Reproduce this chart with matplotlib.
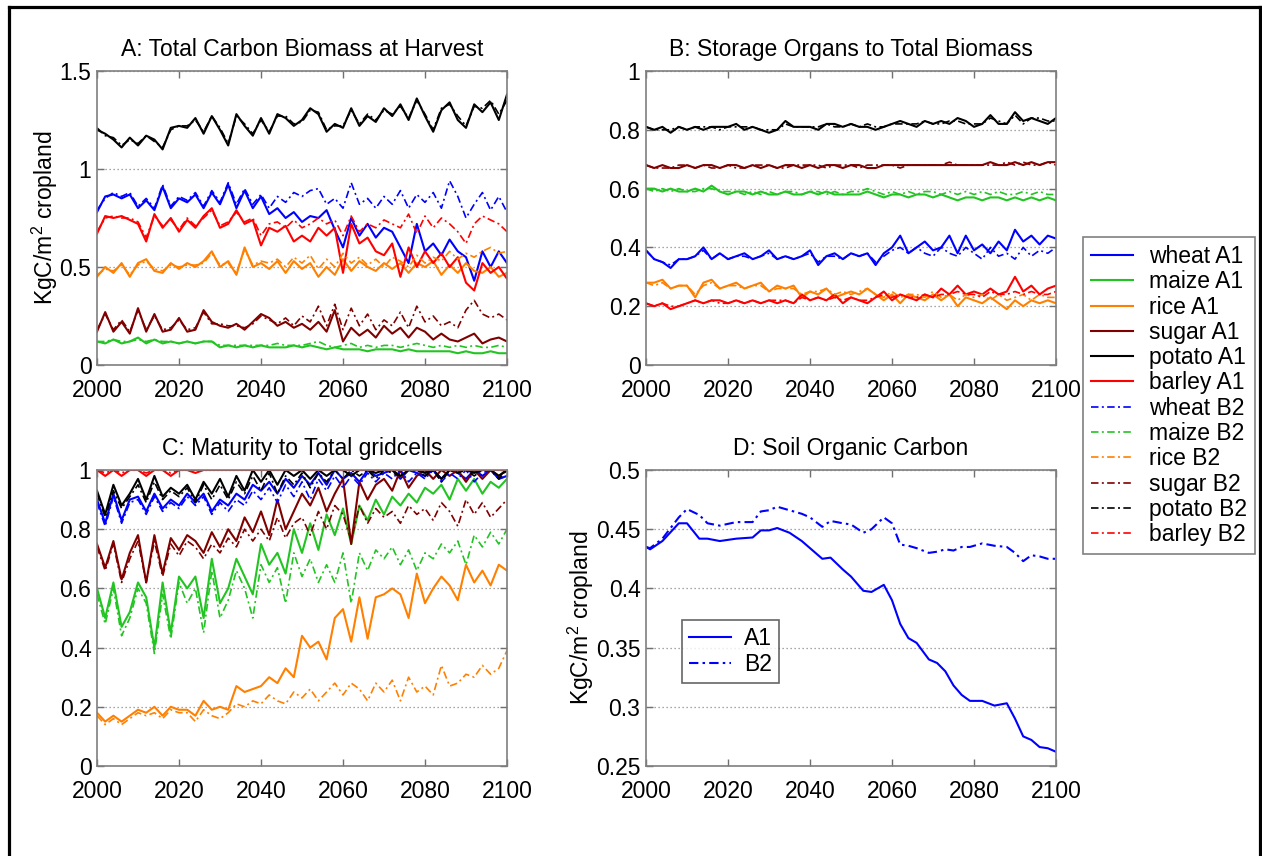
import matplotlib
matplotlib.use('Agg')
import matplotlib.pyplot as plt
from matplotlib.lines import Line2D
from matplotlib.ticker import FuncFormatter

plt.rcParams['font.family'] = ['Liberation Sans', 'DejaVu Sans']
plt.rcParams['mathtext.fontset'] = 'custom'
plt.rcParams['mathtext.rm'] = 'Liberation Sans'
plt.rcParams['mathtext.it'] = 'Liberation Sans:italic'
plt.rcParams['mathtext.bf'] = 'Liberation Sans:bold'

# ---------------- data ----------------
years = list(range(2000, 2101, 2))
crops = ['wheat', 'maize', 'rice', 'sugar', 'potato', 'barley']

# A: Total Carbon Biomass at Harvest
a_wheat_A1 = [0.78,0.86,0.87,0.85,0.87,0.80,0.84,0.79,0.91,0.80, 0.85,0.83,0.87,0.80,0.88,0.82,0.92,0.80,0.89,0.80,
              0.86,0.77,0.80,0.75,0.78,0.73,0.76,0.75,0.79,0.69, 0.60,0.75,0.66,0.72,0.65,0.70,0.68,0.60,0.52,0.72,
              0.58,0.62,0.56,0.64,0.58,0.55,0.43,0.58,0.50,0.58, 0.52]
a_wheat_B2 = [0.79,0.85,0.88,0.86,0.88,0.81,0.85,0.80,0.92,0.81, 0.86,0.84,0.88,0.81,0.89,0.83,0.93,0.82,0.90,0.82,
              0.87,0.80,0.86,0.83,0.88,0.86,0.89,0.90,0.82,0.85, 0.80,0.93,0.82,0.85,0.80,0.86,0.82,0.89,0.80,0.87,
              0.83,0.88,0.80,0.94,0.86,0.75,0.82,0.88,0.79,0.86, 0.78]
a_maize_A1 = [0.12,0.11,0.13,0.11,0.12,0.14,0.11,0.13,0.11,0.12, 0.11,0.12,0.11,0.12,0.12,0.09,0.10,0.09,0.10,0.09,
              0.10,0.09,0.09,0.09,0.10,0.09,0.10,0.09,0.08,0.09, 0.08,0.08,0.08,0.07,0.08,0.08,0.08,0.07,0.08,0.07,
              0.07,0.07,0.07,0.07,0.06,0.07,0.06,0.06,0.07,0.06, 0.06]
a_maize_B2 = [0.12,0.12,0.13,0.12,0.12,0.13,0.12,0.13,0.12,0.12, 0.11,0.12,0.11,0.12,0.12,0.10,0.10,0.10,0.10,0.10,
              0.10,0.10,0.11,0.10,0.10,0.10,0.11,0.12,0.10,0.09, 0.10,0.11,0.09,0.10,0.09,0.10,0.10,0.09,0.10,0.11,
              0.10,0.09,0.10,0.09,0.10,0.09,0.10,0.09,0.09,0.10, 0.09]
a_rice_A1 = [0.45,0.50,0.47,0.52,0.45,0.52,0.54,0.48,0.47,0.52, 0.49,0.52,0.50,0.53,0.58,0.50,0.53,0.46,0.60,0.50,
             0.52,0.49,0.53,0.47,0.53,0.49,0.52,0.45,0.50,0.46, 0.54,0.48,0.53,0.50,0.48,0.52,0.49,0.52,0.47,0.52,
             0.50,0.53,0.46,0.51,0.47,0.52,0.48,0.47,0.50,0.45, 0.47]
a_rice_B2 = [0.46,0.49,0.48,0.51,0.46,0.51,0.53,0.49,0.48,0.51, 0.50,0.51,0.51,0.52,0.57,0.51,0.52,0.47,0.59,0.51,
             0.53,0.52,0.54,0.50,0.55,0.52,0.56,0.49,0.54,0.50, 0.57,0.52,0.55,0.51,0.54,0.50,0.55,0.53,0.50,0.56,
             0.52,0.55,0.53,0.58,0.54,0.57,0.55,0.58,0.60,0.57, 0.58]
a_sugar_A1 = [0.17,0.27,0.17,0.22,0.16,0.29,0.17,0.26,0.17,0.18, 0.24,0.17,0.18,0.28,0.22,0.20,0.19,0.21,0.18,0.22,
              0.26,0.24,0.20,0.22,0.19,0.21,0.18,0.22,0.17,0.28, 0.12,0.19,0.15,0.18,0.14,0.20,0.16,0.19,0.14,0.19,
              0.17,0.13,0.16,0.13,0.12,0.14,0.16,0.11,0.13,0.14, 0.12]
a_sugar_B2 = [0.18,0.26,0.18,0.23,0.17,0.28,0.18,0.25,0.18,0.19, 0.23,0.18,0.19,0.27,0.21,0.21,0.20,0.20,0.19,0.21,
              0.25,0.23,0.21,0.24,0.20,0.25,0.22,0.30,0.20,0.31, 0.18,0.29,0.20,0.26,0.18,0.23,0.20,0.27,0.19,0.30,
              0.22,0.25,0.20,0.22,0.19,0.28,0.33,0.26,0.24,0.26, 0.23]
a_potato_A1 = [1.20,1.18,1.15,1.11,1.16,1.12,1.17,1.15,1.10,1.21, 1.22,1.21,1.26,1.18,1.27,1.20,1.12,1.28,1.22,1.17,
               1.26,1.18,1.28,1.26,1.22,1.25,1.31,1.28,1.19,1.23, 1.21,1.31,1.22,1.27,1.24,1.31,1.27,1.33,1.25,1.36,
               1.27,1.19,1.30,1.34,1.25,1.21,1.33,1.29,1.34,1.25, 1.38]
a_potato_B2 = [1.21,1.17,1.16,1.12,1.15,1.13,1.17,1.14,1.11,1.20, 1.22,1.22,1.25,1.19,1.27,1.21,1.13,1.27,1.23,1.18,
               1.25,1.19,1.27,1.27,1.23,1.24,1.30,1.29,1.20,1.22, 1.22,1.30,1.23,1.28,1.25,1.30,1.28,1.32,1.26,1.35,
               1.28,1.20,1.31,1.33,1.27,1.22,1.32,1.31,1.35,1.28, 1.35]
a_barley_A1 = [0.67,0.76,0.75,0.76,0.74,0.72,0.63,0.77,0.70,0.75, 0.68,0.74,0.70,0.76,0.80,0.70,0.72,0.79,0.72,0.74,
               0.61,0.70,0.68,0.71,0.63,0.66,0.63,0.70,0.66,0.70, 0.47,0.72,0.62,0.65,0.58,0.56,0.62,0.45,0.60,0.50,
               0.58,0.52,0.57,0.50,0.55,0.42,0.38,0.52,0.47,0.50, 0.44]
a_barley_B2 = [0.68,0.75,0.76,0.75,0.75,0.73,0.65,0.76,0.71,0.74, 0.69,0.75,0.71,0.75,0.79,0.71,0.73,0.78,0.73,0.75,
               0.66,0.72,0.73,0.70,0.74,0.70,0.72,0.75,0.72,0.74, 0.66,0.76,0.68,0.72,0.70,0.74,0.72,0.70,0.77,0.67,
               0.76,0.70,0.75,0.72,0.68,0.62,0.72,0.76,0.74,0.72, 0.68]

# B: Storage Organs to Total Biomass
b_wheat_A1 = [0.39,0.36,0.35,0.33,0.36,0.36,0.37,0.40,0.36,0.38, 0.36,0.37,0.38,0.36,0.37,0.39,0.36,0.37,0.36,0.37,
              0.39,0.34,0.37,0.38,0.36,0.38,0.37,0.38,0.34,0.38, 0.40,0.44,0.38,0.40,0.42,0.39,0.40,0.44,0.38,0.44,
              0.39,0.41,0.38,0.42,0.39,0.46,0.42,0.44,0.41,0.44, 0.43]
b_wheat_B2 = [0.39,0.36,0.35,0.34,0.36,0.36,0.37,0.39,0.36,0.38, 0.36,0.37,0.37,0.36,0.37,0.38,0.36,0.37,0.36,0.37,
              0.38,0.35,0.37,0.37,0.36,0.38,0.37,0.38,0.35,0.37, 0.39,0.40,0.38,0.40,0.38,0.37,0.40,0.38,0.37,0.40,
              0.38,0.36,0.40,0.37,0.38,0.36,0.40,0.37,0.39,0.38, 0.40]
b_maize_A1 = [0.60,0.60,0.59,0.60,0.59,0.59,0.60,0.59,0.61,0.59, 0.58,0.59,0.59,0.58,0.59,0.58,0.58,0.59,0.58,0.58,
              0.59,0.58,0.59,0.58,0.58,0.58,0.58,0.59,0.58,0.57, 0.58,0.58,0.57,0.58,0.58,0.57,0.58,0.57,0.56,0.57,
              0.57,0.56,0.57,0.57,0.56,0.57,0.56,0.57,0.56,0.57, 0.56]
b_maize_B2 = [0.60,0.59,0.60,0.59,0.60,0.59,0.59,0.60,0.60,0.59, 0.59,0.59,0.58,0.59,0.58,0.59,0.58,0.59,0.59,0.58,
              0.59,0.59,0.58,0.59,0.58,0.59,0.59,0.60,0.59,0.58, 0.59,0.58,0.59,0.58,0.59,0.59,0.58,0.59,0.58,0.59,
              0.58,0.59,0.58,0.59,0.58,0.58,0.59,0.58,0.59,0.58, 0.58]
b_rice_A1 = [0.28,0.28,0.29,0.26,0.27,0.27,0.23,0.28,0.29,0.26, 0.27,0.28,0.26,0.27,0.28,0.25,0.27,0.26,0.27,0.23,
             0.25,0.24,0.26,0.23,0.24,0.25,0.24,0.26,0.24,0.22, 0.24,0.21,0.24,0.23,0.22,0.24,0.22,0.24,0.20,0.23,
             0.22,0.21,0.23,0.21,0.19,0.22,0.20,0.22,0.21,0.22, 0.21]
b_rice_B2 = [0.28,0.27,0.28,0.26,0.27,0.27,0.24,0.27,0.28,0.26, 0.27,0.27,0.26,0.27,0.27,0.25,0.26,0.26,0.26,0.24,
             0.25,0.25,0.26,0.24,0.25,0.24,0.25,0.26,0.24,0.23, 0.25,0.23,0.24,0.24,0.23,0.25,0.23,0.24,0.22,0.24,
             0.23,0.24,0.22,0.24,0.22,0.23,0.24,0.22,0.24,0.23, 0.23]
b_sugar_A1 = [0.68,0.67,0.68,0.67,0.67,0.68,0.67,0.68,0.68,0.67, 0.68,0.68,0.67,0.68,0.67,0.68,0.67,0.68,0.68,0.67,
              0.68,0.67,0.68,0.68,0.67,0.68,0.68,0.67,0.67,0.68, 0.68,0.68,0.68,0.68,0.68,0.68,0.68,0.68,0.68,0.68,
              0.68,0.68,0.69,0.68,0.68,0.69,0.68,0.69,0.68,0.69, 0.69]
b_sugar_B2 = [0.68,0.67,0.67,0.67,0.68,0.68,0.67,0.68,0.67,0.67, 0.68,0.67,0.67,0.68,0.68,0.68,0.67,0.67,0.68,0.68,
              0.68,0.68,0.67,0.68,0.68,0.68,0.67,0.68,0.68,0.68, 0.68,0.67,0.68,0.68,0.68,0.68,0.68,0.69,0.68,0.68,
              0.68,0.68,0.68,0.68,0.69,0.68,0.69,0.68,0.68,0.69, 0.68]
b_potato_A1 = [0.81,0.80,0.81,0.79,0.81,0.80,0.81,0.80,0.81,0.81, 0.81,0.82,0.80,0.81,0.80,0.79,0.80,0.83,0.81,0.81,
               0.81,0.80,0.82,0.82,0.81,0.82,0.81,0.81,0.80,0.81, 0.82,0.83,0.82,0.81,0.83,0.82,0.83,0.82,0.84,0.83,
               0.81,0.82,0.85,0.82,0.82,0.86,0.83,0.84,0.83,0.82, 0.84]
b_potato_B2 = [0.81,0.80,0.80,0.80,0.81,0.80,0.81,0.81,0.81,0.80, 0.81,0.81,0.81,0.81,0.80,0.80,0.80,0.82,0.81,0.81,
               0.81,0.81,0.82,0.81,0.81,0.82,0.81,0.82,0.81,0.81, 0.82,0.82,0.82,0.82,0.83,0.82,0.82,0.83,0.83,0.82,
               0.82,0.82,0.84,0.83,0.82,0.85,0.82,0.84,0.84,0.83, 0.83]
b_barley_A1 = [0.21,0.20,0.21,0.19,0.20,0.21,0.22,0.21,0.22,0.22, 0.21,0.22,0.21,0.22,0.21,0.22,0.21,0.22,0.21,0.24,
               0.22,0.23,0.22,0.24,0.21,0.23,0.22,0.21,0.23,0.25, 0.22,0.24,0.23,0.22,0.24,0.23,0.26,0.24,0.27,0.24,
               0.25,0.24,0.26,0.24,0.25,0.30,0.25,0.27,0.24,0.26, 0.27]
b_barley_B2 = [0.21,0.20,0.21,0.20,0.20,0.21,0.22,0.21,0.22,0.21, 0.21,0.22,0.21,0.22,0.21,0.22,0.22,0.22,0.21,0.23,
               0.22,0.23,0.22,0.23,0.22,0.23,0.22,0.22,0.23,0.24, 0.23,0.24,0.23,0.23,0.24,0.23,0.24,0.24,0.25,0.24,
               0.24,0.23,0.25,0.24,0.24,0.25,0.24,0.25,0.24,0.24, 0.25]

# C: Maturity to Total gridcells
c_wheat_A1 = [0.90,0.82,0.92,0.83,0.90,0.91,0.86,0.92,0.87,0.90, 0.88,0.92,0.89,0.92,0.86,0.90,0.88,0.92,0.90,0.95,
              0.93,0.96,0.92,0.97,0.94,0.98,0.95,0.99,0.95,1.00, 0.97,0.99,0.96,1.00,0.98,0.99,1.00,0.97,1.00,0.99,
              0.98,1.00,0.97,1.00,0.99,0.97,1.00,0.98,1.00,0.97, 0.98]
c_wheat_B2 = [0.89,0.81,0.91,0.82,0.89,0.90,0.85,0.91,0.86,0.89, 0.87,0.91,0.88,0.91,0.85,0.89,0.86,0.90,0.88,0.93,
              0.90,0.94,0.89,0.95,0.91,0.96,0.90,0.97,0.93,0.98, 0.94,0.98,0.95,0.99,0.96,0.99,0.97,1.00,0.96,0.99,
              0.97,1.00,0.96,0.99,0.97,1.00,0.96,0.99,1.00,0.97, 0.98]
c_maize_A1 = [0.60,0.50,0.62,0.47,0.52,0.62,0.57,0.40,0.62,0.45, 0.64,0.60,0.64,0.50,0.70,0.55,0.60,0.70,0.64,0.58,
              0.75,0.68,0.72,0.65,0.80,0.72,0.82,0.73,0.85,0.78, 0.87,0.75,0.88,0.83,0.90,0.85,0.91,0.88,0.92,0.89,
              0.94,0.92,0.95,0.90,0.97,0.93,0.97,0.92,0.96,0.94, 0.97]
c_maize_B2 = [0.58,0.48,0.60,0.44,0.50,0.60,0.55,0.38,0.58,0.43, 0.62,0.55,0.60,0.45,0.66,0.50,0.56,0.66,0.60,0.50,
              0.68,0.62,0.67,0.55,0.72,0.64,0.70,0.62,0.68,0.62, 0.72,0.55,0.72,0.66,0.73,0.70,0.74,0.68,0.73,0.66,
              0.72,0.70,0.75,0.72,0.76,0.68,0.78,0.74,0.79,0.75, 0.80]
c_rice_A1 = [0.18,0.15,0.17,0.15,0.17,0.19,0.18,0.20,0.17,0.20, 0.19,0.19,0.17,0.22,0.19,0.20,0.19,0.27,0.25,0.26,
             0.27,0.30,0.28,0.33,0.30,0.44,0.40,0.42,0.36,0.50, 0.53,0.42,0.57,0.43,0.57,0.58,0.60,0.58,0.50,0.65,
             0.55,0.60,0.64,0.61,0.56,0.68,0.62,0.66,0.61,0.68, 0.66]
c_rice_B2 = [0.17,0.14,0.16,0.14,0.16,0.18,0.17,0.18,0.16,0.19, 0.18,0.18,0.15,0.19,0.17,0.16,0.18,0.21,0.20,0.22,
             0.21,0.24,0.22,0.21,0.25,0.23,0.26,0.22,0.25,0.28, 0.24,0.28,0.26,0.22,0.28,0.25,0.29,0.22,0.30,0.25,
             0.27,0.24,0.34,0.27,0.28,0.31,0.30,0.34,0.31,0.33, 0.39]
c_sugar_A1 = [0.75,0.67,0.76,0.63,0.72,0.78,0.62,0.78,0.65,0.77, 0.73,0.78,0.76,0.72,0.79,0.74,0.80,0.76,0.84,0.79,
              0.86,0.78,0.90,0.80,0.86,0.92,0.88,0.94,0.86,0.92, 0.97,0.75,0.96,0.90,0.95,0.97,0.93,1.00,0.94,0.98,
              1.00,0.97,1.00,0.98,1.00,0.96,1.00,0.97,1.00,0.98, 1.00]
c_sugar_B2 = [0.74,0.66,0.75,0.62,0.70,0.76,0.62,0.76,0.64,0.75, 0.71,0.76,0.74,0.70,0.75,0.72,0.77,0.74,0.80,0.76,
              0.80,0.76,0.84,0.77,0.82,0.84,0.78,0.86,0.80,0.88, 0.85,0.76,0.88,0.82,0.87,0.84,0.86,0.82,0.88,0.85,
              0.87,0.83,0.89,0.86,0.81,0.90,0.85,0.89,0.84,0.87, 0.90]
c_potato_A1 = [0.93,0.85,0.95,0.88,0.92,0.97,0.90,0.98,0.91,0.94, 0.92,0.95,0.90,0.96,0.92,0.97,0.91,0.98,0.93,1.00,
               0.96,1.00,0.95,1.00,0.98,1.00,0.97,1.00,0.98,1.00, 1.00,0.98,1.00,1.00,0.99,1.00,1.00,0.98,1.00,1.00,
               0.99,1.00,0.97,1.00,1.00,1.00,0.99,1.00,1.00,0.98, 1.00]
c_potato_B2 = [0.92,0.84,0.93,0.87,0.91,0.95,0.89,0.96,0.90,0.93, 0.91,0.94,0.89,0.95,0.90,0.95,0.90,0.96,0.92,0.98,
               0.93,0.99,0.92,0.98,0.95,0.99,0.94,0.99,0.96,1.00, 0.97,1.00,0.98,1.00,0.97,1.00,0.99,0.98,1.00,1.00,
               0.98,1.00,0.96,1.00,0.99,1.00,0.98,1.00,1.00,0.97, 1.00]
c_barley_A1 = [1.00,0.98,1.00,0.98,1.00,1.00,0.98,1.00,1.00,0.98, 1.00,1.00,0.99,1.00,1.00,1.00,1.00,1.00,1.00,1.00,
               1.00,1.00,1.00,1.00,1.00,1.00,1.00,1.00,1.00,1.00, 1.00,1.00,1.00,1.00,1.00,1.00,1.00,1.00,1.00,1.00,
               1.00,1.00,1.00,1.00,1.00,1.00,1.00,1.00,1.00,1.00, 1.00]
c_barley_B2 = [1.00,0.99,1.00,0.99,1.00,1.00,0.99,1.00,1.00,0.99, 1.00,1.00,1.00,1.00,1.00,1.00,1.00,1.00,1.00,1.00,
               1.00,1.00,1.00,1.00,1.00,1.00,1.00,1.00,1.00,1.00, 1.00,1.00,1.00,1.00,1.00,1.00,1.00,1.00,1.00,1.00,
               1.00,1.00,1.00,1.00,1.00,1.00,1.00,1.00,1.00,1.00, 1.00]

# D: Soil Organic Carbon
d_years = [2000,2001,2004,2008,2010,2013,2015,2018,2022,2026,2028,2030,2032,2035,2038,2040,2043,2045,2048,2050,
           2053,2055,2058,2060,2062,2064,2066,2069,2071,2073,2075,2077,2079,2082,2085,2088,2090,2092,2094,2096,
           2098,2100]
d_A1 = [0.435,0.433,0.440,0.455,0.455,0.442,0.442,0.440,0.442,0.443,0.449,0.449,0.451,0.447,0.440,0.434,0.425,
        0.426,0.416,0.410,0.398,0.397,0.403,0.390,0.370,0.358,0.354,0.340,0.337,0.330,0.318,0.310,0.305,0.305,
        0.301,0.303,0.290,0.275,0.272,0.266,0.265,0.262]
d_B2 = [0.435,0.434,0.442,0.460,0.467,0.462,0.455,0.453,0.456,0.456,0.465,0.466,0.469,0.466,0.463,0.460,0.452,
        0.457,0.455,0.454,0.447,0.450,0.460,0.455,0.437,0.436,0.434,0.430,0.431,0.433,0.432,0.435,0.435,0.438,
        0.436,0.435,0.430,0.423,0.428,0.427,0.425,0.425]

x_ticks = [2000, 2020, 2040, 2060, 2080, 2100]
a_yticks = [0, 0.5, 1, 1.5]
b_yticks = [0, 0.2, 0.4, 0.6, 0.8, 1]
c_yticks = [0, 0.2, 0.4, 0.6, 0.8, 1]
d_yticks = [0.25, 0.3, 0.35, 0.4, 0.45, 0.5]

panel_A_A1 = [a_wheat_A1, a_maize_A1, a_rice_A1, a_sugar_A1, a_potato_A1, a_barley_A1]
panel_A_B2 = [a_wheat_B2, a_maize_B2, a_rice_B2, a_sugar_B2, a_potato_B2, a_barley_B2]
panel_B_A1 = [b_wheat_A1, b_maize_A1, b_rice_A1, b_sugar_A1, b_potato_A1, b_barley_A1]
panel_B_B2 = [b_wheat_B2, b_maize_B2, b_rice_B2, b_sugar_B2, b_potato_B2, b_barley_B2]
panel_C_A1 = [c_wheat_A1, c_maize_A1, c_rice_A1, c_sugar_A1, c_potato_A1, c_barley_A1]
panel_C_B2 = [c_wheat_B2, c_maize_B2, c_rice_B2, c_sugar_B2, c_potato_B2, c_barley_B2]

# ---------------- style ----------------
colors = {'wheat': '#0000ff', 'maize': '#22c422', 'rice': '#ff8000',
          'sugar': '#800000', 'potato': '#000000', 'barley': '#ff0000'}
DASHDOT = (0, (4.5, 2.0, 1.2, 2.0))
LW_A1 = 1.5
LW_B2 = 1.2
FS = 16.5
W, H = 1262, 856

fig = plt.figure(figsize=(W / 100, H / 100), dpi=100)


def rect(l, t, r, b):
    return [l / W, 1 - b / H, (r - l) / W, (b - t) / H]


axA = fig.add_axes(rect(97, 71, 507, 365))
axB = fig.add_axes(rect(646, 71, 1056, 365))
axC = fig.add_axes(rect(97, 470, 507, 766))
axD = fig.add_axes(rect(646, 470, 1056, 766))


def style(ax, ylim, yticks, title):
    ax.set_xlim(2000, 2100)
    ax.set_ylim(*ylim)
    ax.set_xticks(x_ticks)
    ax.set_yticks(yticks)
    ax.yaxis.set_major_formatter(FuncFormatter(lambda v, p: f'{v:g}'))
    ax.tick_params(direction='in', top=True, right=True, length=5, width=1,
                   color='#707070', labelsize=FS)
    ax.tick_params(axis='x', pad=10)
    ax.tick_params(axis='y', pad=4)
    for s in ax.spines.values():
        s.set_color('#7f7f7f')
        s.set_linewidth(1.2)
    ax.set_axisbelow(True)
    ax.grid(axis='y', linestyle=(0, (1, 2.2)), color='#8a8a8a', linewidth=0.9)
    ax.set_title(title, fontsize=FS, pad=11)


def draw_panel(ax, A1, B2):
    handles = []
    for crop, s in zip(crops, A1):
        h, = ax.plot(years, s, color=colors[crop], lw=LW_A1, ls='-', label=f'{crop} A1')
        handles.append(h)
    for crop, s in zip(crops, B2):
        h, = ax.plot(years, s, color=colors[crop], lw=LW_B2, ls=DASHDOT, label=f'{crop} B2')
        handles.append(h)
    return handles


draw_panel(axA, panel_A_A1, panel_A_B2)
handles = draw_panel(axB, panel_B_A1, panel_B_B2)
draw_panel(axC, panel_C_A1, panel_C_B2)

axD.plot(d_years, d_A1, color='#0000ff', lw=LW_A1, ls='-', label='A1')
axD.plot(d_years, d_B2, color='#0000ff', lw=LW_A1, ls=DASHDOT, label='B2')

style(axA, (0, 1.5), a_yticks, 'A: Total Carbon Biomass at Harvest')
style(axB, (0, 1), b_yticks, 'B: Storage Organs to Total Biomass')
style(axC, (0, 1), c_yticks, 'C: Maturity to Total gridcells')
style(axD, (0.25, 0.5), d_yticks, 'D: Soil Organic Carbon')

ylab = r'KgC/m$^{\mathrm{2}}$ cropland'
axA.set_ylabel(ylab, fontsize=FS, labelpad=0)
axD.set_ylabel(ylab, fontsize=FS, labelpad=0)

# main legend
leg = fig.legend(handles=handles, loc='upper left', bbox_to_anchor=(1083 / W, 1 - 237 / H),
                 bbox_transform=fig.transFigure, fontsize=FS, frameon=True, fancybox=False,
                 borderpad=0.35, labelspacing=0.1, handlelength=1.85, handletextpad=0.7,
                 borderaxespad=0)
leg.get_frame().set_edgecolor('#606060')
leg.get_frame().set_linewidth(1.2)

# legend in D
legD = axD.legend(loc='upper left', bbox_to_anchor=(682 / W, 1 - 620 / H),
                  bbox_transform=fig.transFigure, fontsize=FS, frameon=True, fancybox=False,
                  borderpad=0.3, labelspacing=0.12, handlelength=1.85, handletextpad=0.55,
                  borderaxespad=0)
legD.get_frame().set_edgecolor('#404040')
legD.get_frame().set_linewidth(1.2)

# outer frame
for xs, ys in (([9 / W, 9 / W], [0, 1 - 7 / H]),
               ([9 / W, 1260 / W], [1 - 7 / H, 1 - 7 / H]),
               ([1260 / W, 1260 / W], [0, 1 - 7 / H])):
    fig.add_artist(Line2D(xs, ys, transform=fig.transFigure, color='black', lw=2.3))

fig.savefig('out.png', dpi=100)
